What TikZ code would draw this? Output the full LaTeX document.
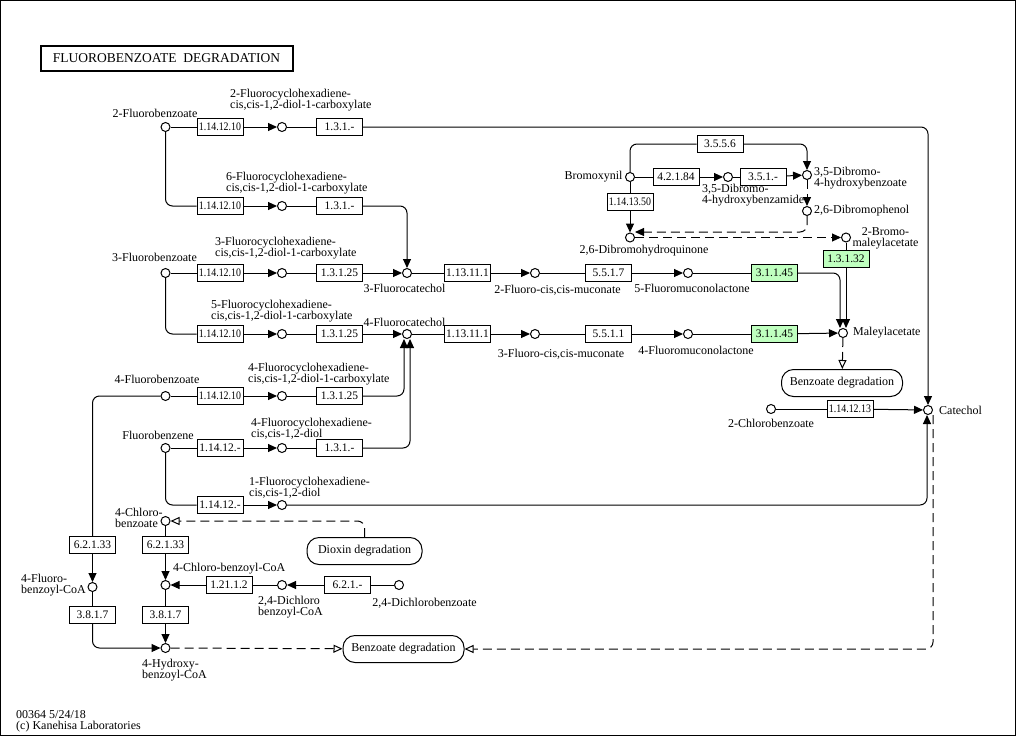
\documentclass[tikz,border=0pt]{standalone}
\usepackage{fontspec}
\usepackage{graphicx}
\setmainfont{Liberation Serif}
\usetikzlibrary{arrows.meta,calc}
\definecolor{kgreen}{RGB}{191,255,191}
\newcommand\sqz[1]{\scalebox{0.86}[1]{#1}}
\begin{document}
\begin{tikzpicture}[x=1pt,y=-1pt,
  every node/.style={font=\fontsize{12}{11}\selectfont},
  cpd/.style={circle,draw,fill=white,line width=1pt,minimum size=9pt,inner sep=0pt},
  enz/.style={draw,fill=white,line width=1pt,minimum width=46pt,minimum height=17pt,inner sep=0pt,font=\fontsize{11.5}{12}\selectfont},
  genz/.style={enz,fill=kgreen},
  mapbox/.style={draw,fill=white,line width=1pt,rounded corners=12pt,minimum width=121pt,minimum height=27pt,inner sep=0pt},
  lbl/.style={inner sep=0pt,align=center},
  lbll/.style={inner sep=0pt,align=left,anchor=west},
  conn/.style={line width=1pt,rounded corners=7pt},
  rx/.style={conn,-{Triangle[length=9pt,width=8pt]}},
  dsh/.style={conn,dash pattern=on 9pt off 5pt},
  drx/.style={dsh,-{Triangle[length=9pt,width=8pt]}},
  orx/.style={dsh,-{Triangle[open,length=9pt,width=8pt]}},
]
\useasboundingbox (0,0) rectangle (1016,736);
\draw[line width=1pt] (0.5,0.5) rectangle (1015.5,735.5);

% title
\node[draw,line width=2pt,minimum width=252pt,minimum height=25pt,inner sep=0pt,font=\fontsize{13.5}{14}\selectfont] (title) at (166.5,58.5) {FLUOROBENZOATE\ \ DEGRADATION};

% compounds
\node[cpd] (c2fb) at (165.5,127) {};
\node[cpd] (c2fdc) at (282,127) {};
\node[cpd] (c6fdc) at (282,206) {};
\node[cpd] (c3fb) at (165.5,273) {};
\node[cpd] (c3fdc) at (282,273) {};
\node[cpd] (c3fc) at (407,273) {};
\node[cpd] (c2fm) at (535,273) {};
\node[cpd] (c5fml) at (688,273) {};
\node[cpd] (c5fdc) at (282,334) {};
\node[cpd] (c4fc) at (407,334) {};
\node[cpd] (c3fm) at (535,334) {};
\node[cpd] (c4fml) at (688,334) {};
\node[cpd] (cmal) at (843,333) {};
\node[cpd] (c4fb) at (165.5,396) {};
\node[cpd] (c4fdc) at (282,396) {};
\node[cpd] (cfb) at (165.5,448) {};
\node[cpd] (c4fdd) at (282,448) {};
\node[cpd] (c1fdd) at (282,505) {};
\node[cpd] (cbrom) at (630,177) {};
\node[cpd] (cdbam) at (728,177) {};
\node[cpd] (cdbhb) at (807,175) {};
\node[cpd] (cdbp) at (807,211) {};
\node[cpd] (cdbhq) at (630,237.5) {};
\node[cpd] (c2bm) at (846,237.5) {};
\node[cpd] (c2cb) at (771,409) {};
\node[cpd] (ccat) at (928,410) {};
\node[cpd] (c4cb) at (165.5,521) {};
\node[cpd] (c4fbc) at (92.5,587) {};
\node[cpd] (c4cbc) at (165.5,585) {};
\node[cpd] (c24dbc) at (282,585) {};
\node[cpd] (c24db) at (399,585) {};
\node[cpd] (c4hbc) at (165.5,648) {};

% enzymes
\node[enz] (e1) at (220,127) {\sqz{1.14.12.10}};
\node[enz] (e2) at (339.5,127) {1.3.1.-};
\node[enz] (e3) at (220,206) {\sqz{1.14.12.10}};
\node[enz] (e4) at (339.5,206) {1.3.1.-};
\node[enz] (e5) at (220,273) {\sqz{1.14.12.10}};
\node[enz] (e6) at (339.5,273) {1.3.1.25};
\node[enz] (e7) at (467.5,273) {1.13.11.1};
\node[enz] (e8) at (608.5,273) {5.5.1.7};
\node[genz] (e9) at (774.5,273) {3.1.1.45};
\node[enz] (e10) at (220,334) {\sqz{1.14.12.10}};
\node[enz] (e11) at (339.5,334) {1.3.1.25};
\node[enz] (e12) at (467.5,334) {1.13.11.1};
\node[enz] (e13) at (608.5,334) {5.5.1.1};
\node[genz] (e14) at (774.5,334) {3.1.1.45};
\node[enz] (e15) at (220,396) {\sqz{1.14.12.10}};
\node[enz] (e16) at (339.5,396) {1.3.1.25};
\node[enz] (e17) at (220,448) {1.14.12.-};
\node[enz] (e18) at (339.5,448) {1.3.1.-};
\node[enz] (e19) at (220,505) {1.14.12.-};
\node[enz] (e20) at (720,144) {3.5.5.6};
\node[enz] (e21) at (676,177) {4.2.1.84};
\node[enz] (e22) at (763,177) {3.5.1.-};
\node[enz] (e23) at (630,202) {\sqz{1.14.13.50}};
\node[genz] (e24) at (846,259) {1.3.1.32};
\node[enz] (e25) at (850,409) {\sqz{1.14.12.13}};
\node[enz] (e26) at (92.5,545) {6.2.1.33};
\node[enz] (e27) at (165.5,545) {6.2.1.33};
\node[enz] (e28) at (92.5,615) {3.8.1.7};
\node[enz] (e29) at (165.5,615) {3.8.1.7};
\node[enz] (e30) at (229,585) {1.21.1.2};
\node[enz] (e31) at (347.5,585) {6.2.1.-};

% maps
\node[mapbox] (mb1) at (842,383) {Benzoate degradation};
\node[mapbox] (mb2) at (403.5,649) {Benzoate degradation};
\node[mapbox,minimum width=115pt] (mdx) at (364.5,551) {Dioxin degradation};

% labels
\node[lbl] (l2fb) at (155,113) {2-Fluorobenzoate};
\node[lbll] (l2fdc) at (230,100.5) {2-Fluorocyclohexadiene-\\cis,cis-1,2-diol-1-carboxylate};
\node[lbll] (l6fdc) at (226,183.5) {6-Fluorocyclohexadiene-\\cis,cis-1,2-diol-1-carboxylate};
\node[lbl] (l3fb) at (154.5,257) {3-Fluorobenzoate};
\node[lbll] (l3fdc) at (215,248) {3-Fluorocyclohexadiene-\\cis,cis-1,2-diol-1-carboxylate};
\node[lbl] (l3fc) at (404.5,288) {3-Fluorocatechol};
\node[lbl] (l2fm) at (557.5,290) {2-Fluoro-cis,cis-muconate};
\node[lbl] (l5fml) at (692,288) {5-Fluoromuconolactone};
\node[lbll] (l5fdc) at (211,311) {5-Fluorocyclohexadiene-\\cis,cis-1,2-diol-1-carboxylate};
\node[lbl] (l4fc) at (404.5,322) {4-Fluorocatechol};
\node[lbl] (l3fm) at (561,354) {3-Fluoro-cis,cis-muconate};
\node[lbl] (l4fml) at (696,350) {4-Fluoromuconolactone};
\node[lbll] (lmal) at (853,333) {Maleylacetate};
\node[lbl] (l4fb) at (157,379) {4-Fluorobenzoate};
\node[lbll] (l4fdc) at (248,374) {4-Fluorocyclohexadiene-\\cis,cis-1,2-diol-1-carboxylate};
\node[lbl] (lfb) at (158,435) {Fluorobenzene};
\node[lbll] (l4fdd) at (251,429) {4-Fluorocyclohexadiene-\\cis,cis-1,2-diol};
\node[lbll] (l1fdd) at (249,487.5) {1-Fluorocyclohexadiene-\\cis,cis-1,2-diol};
\node[lbl] (lbrom) at (593.5,177) {Bromoxynil};
\node[lbll] (ldbam) at (702,195.5) {3,5-Dibromo-\\4-hydroxybenzamide};
\node[lbll] (ldbhb) at (814,178) {3,5-Dibromo-\\4-hydroxybenzoate};
\node[lbll] (ldbp) at (814,211) {2,6-Dibromophenol};
\node[lbl] (ldbhq) at (644,251) {2,6-Dibromohydroquinone};
\node[lbl] (l2bm) at (885.5,238) {2-Bromo-\\maleylacetate};
\node[lbl] (l2cb) at (771,423) {2-Chlorobenzoate};
\node[lbll] (lcat) at (939,410) {Catechol};
\node[lbll] (l4cb) at (115,518) {4-Chloro-\\benzoate};
\node[lbll] (l4fbc) at (21,585.5) {4-Fluoro-\\benzoyl-CoA};
\node[lbll] (l4cbc) at (173,569) {4-Chloro-benzoyl-CoA};
\node[lbll] (l24dbc) at (258,607.5) {2,4-Dichloro\\benzoyl-CoA};
\node[lbl] (l24db) at (424.5,603) {2,4-Dichlorobenzoate};
\node[lbll] (l4hbc) at (142,670) {4-Hydroxy-\\benzoyl-CoA};
\node[lbll] (lft1) at (16,715) {00364 5/24/18};
\node[lbll] (lft2) at (16,727) {(c) Kanehisa Laboratories};

% connectors: fluorobenzoates
\draw[conn] (c2fb) -- (e1); \draw[rx] (e1) -- (c2fdc); \draw[conn] (c2fdc) -- (e2); \draw[rx] (e2) -| (ccat);
\draw[conn] (c2fb) |- (e3); \draw[rx] (e3) -- (c6fdc); \draw[conn] (c6fdc) -- (e4); \draw[rx] (e4) -| (c3fc);
\draw[conn] (c3fb) -- (e5); \draw[rx] (e5) -- (c3fdc); \draw[conn] (c3fdc) -- (e6); \draw[rx] (e6) -- (c3fc);
\draw[conn] (c3fc) -- (e7); \draw[rx] (e7) -- (c2fm); \draw[conn] (c2fm) -- (e8); \draw[rx] (e8) -- (c5fml);
\draw[conn] (c5fml) -- (e9); \draw[rx] (e9) -| ([xshift=-3pt]cmal.north);
\draw[conn] (c3fb) |- (e10); \draw[rx] (e10) -- (c5fdc); \draw[conn] (c5fdc) -- (e11); \draw[rx] (e11) -- (c4fc);
\draw[conn] (c4fc) -- (e12); \draw[rx] (e12) -- (c3fm); \draw[conn] (c3fm) -- (e13); \draw[rx] (e13) -- (c4fml);
\draw[conn] (c4fml) -- (e14); \draw[rx] (e14) -- (cmal);
\draw[conn] (c4fb) -- (e15); \draw[rx] (e15) -- (c4fdc); \draw[conn] (c4fdc) -- (e16); \draw[rx] (e16) -| ([xshift=-3pt]c4fc.south);
\draw[conn] (cfb) -- (e17); \draw[rx] (e17) -- (c4fdd); \draw[conn] (c4fdd) -- (e18); \draw[rx] (e18) -| ([xshift=3pt]c4fc.south);
\draw[conn] (cfb) |- (e19); \draw[rx] (e19) -- (c1fdd); \draw[rx] (c1fdd) -| ([xshift=-1pt]ccat.south);
% bromoxynil
\draw[conn] (cbrom) |- (e20); \draw[rx] (e20) -| (cdbhb);
\draw[conn] (cbrom) -- (e21); \draw[rx] (e21) -- (cdbam); \draw[conn] (cdbam) -- (e22); \draw[rx] (e22) -- (cdbhb);
\draw[conn] (cbrom) -- (e23); \draw[rx] (e23) -- (cdbhq);
\draw[drx] (cdbhb) -- (cdbp);
\draw[drx] (cdbp) |- ($(cdbhq.east)+(0,-5.5)$);
\draw[drx] (cdbhq) -- (c2bm);
\draw[conn] (c2bm) -- (e24); \draw[rx] (e24) -- ([xshift=3pt]cmal.north);
\draw[orx] (cmal) -- (mb1);
% catechol
\draw[conn] (c2cb) -- (e25); \draw[rx] (e25) -- (ccat);
\draw[orx] ([xshift=5pt]ccat.south) |- (mb2);
% chloro / CoA
\draw[orx] (mdx) |- (c4cb);
\draw[conn] (c4fb) -| (e26); \draw[rx] (e26) -- (c4fbc); \draw[conn] (c4fbc) -- (e28); \draw[rx] (e28) |- (c4hbc);
\draw[conn] (c4cb) -- (e27); \draw[rx] (e27) -- (c4cbc); \draw[conn] (c4cbc) -- (e29); \draw[rx] (e29) -- (c4hbc);
\draw[conn] (c24db) -- (e31); \draw[rx] (e31) -- (c24dbc); \draw[conn] (c24dbc) -- (e30); \draw[rx] (e30) -- (c4cbc);
\draw[orx] (c4hbc) -- (mb2);
\end{tikzpicture}
\end{document}
